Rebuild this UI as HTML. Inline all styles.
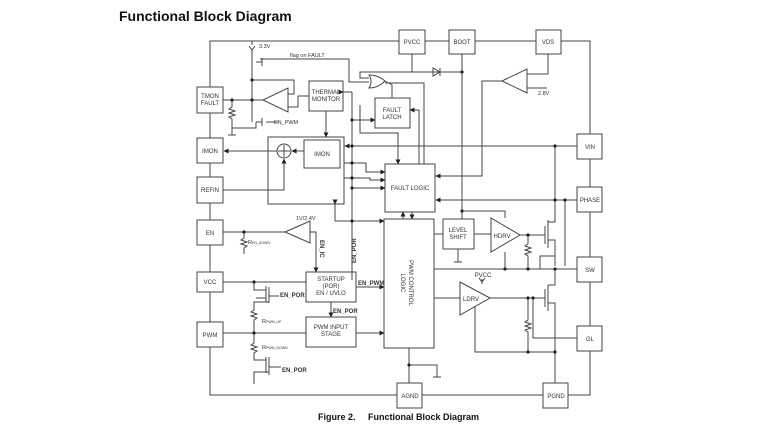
<!DOCTYPE html>
<html><head><meta charset="utf-8"><style>
html,body{margin:0;padding:0;background:#fff;}
svg{display:block;}
text{font-family:"Liberation Sans",Arial,sans-serif;fill:#333;}
</style></head><body>
<svg width="768" height="432" viewBox="0 0 768 432" xmlns="http://www.w3.org/2000/svg">
<defs>
<marker id="a" markerWidth="5" markerHeight="5" refX="4.5" refY="2.5" orient="auto" markerUnits="userSpaceOnUse"><path d="M0,0 L5,2.5 L0,5z" fill="#222"/></marker>
</defs>
<text x="119" y="21" font-size="14" font-weight="bold" fill="#111" style="fill:#111">Functional Block Diagram</text>

<g stroke="#444" stroke-width="1" fill="none">
<!-- outer frame -->
<polyline points="210,87 210,41 399,41"/>
<line x1="425" y1="41" x2="449" y2="41"/>
<line x1="475" y1="41" x2="536" y2="41"/>
<polyline points="561,41 590,41 590,134"/>
<line x1="590" y1="159" x2="590" y2="187"/>
<line x1="590" y1="212" x2="590" y2="257"/>
<line x1="590" y1="282" x2="590" y2="326"/>
<polyline points="590,351 590,395 568,395"/>
<line x1="543" y1="395" x2="422" y2="395"/>
<polyline points="397,395 210,395 210,347"/>
<line x1="210" y1="113" x2="210" y2="138"/>
<line x1="210" y1="163" x2="210" y2="177"/>
<line x1="210" y1="203" x2="210" y2="220"/>
<line x1="210" y1="245" x2="210" y2="272"/>
<line x1="210" y1="292" x2="210" y2="322"/>

<!-- boxes -->
<rect x="197" y="87" width="26" height="26" fill="#fff"/>
<rect x="197" y="138" width="26" height="25" fill="#fff"/>
<rect x="197" y="177" width="26" height="26" fill="#fff"/>
<rect x="197" y="220" width="26" height="25" fill="#fff"/>
<rect x="197" y="272" width="26" height="20" fill="#fff"/>
<rect x="197" y="322" width="26" height="25" fill="#fff"/>
<rect x="399" y="30" width="26" height="24" fill="#fff"/>
<rect x="449" y="30" width="26" height="24" fill="#fff"/>
<rect x="536" y="30" width="25" height="24" fill="#fff"/>
<rect x="577" y="134" width="25" height="25" fill="#fff"/>
<rect x="577" y="187" width="25" height="25" fill="#fff"/>
<rect x="577" y="257" width="25" height="25" fill="#fff"/>
<rect x="577" y="326" width="25" height="25" fill="#fff"/>
<rect x="543" y="383" width="25" height="25" fill="#fff"/>
<rect x="397" y="383" width="25" height="25" fill="#fff"/>

<rect x="309" y="81" width="34" height="30"/>
<rect x="375" y="98" width="35" height="30"/>
<rect x="268" y="137" width="76" height="67"/>
<rect x="304" y="140" width="36" height="28"/>
<circle cx="284" cy="151" r="7"/>
<line x1="284" y1="145" x2="284" y2="157"/><line x1="278" y1="151" x2="290" y2="151"/>
<rect x="385" y="164" width="50" height="48"/>
<rect x="384" y="219" width="50" height="129"/>
<rect x="443" y="219" width="31" height="30"/>
<rect x="306" y="272" width="50" height="30"/>
<rect x="306" y="317" width="50" height="30"/>

<!-- triangles -->
<polygon points="491,218 491,252 520,235"/>
<polygon points="460,282 460,315 490,298"/>
<polygon points="285,232 310,221 310,243"/>
<polygon points="527,69 527,93 502,81"/>
<polygon points="288,88 288,112 263,100"/>
<path d="M369,75 Q378,75 385,81 Q378,88 369,88 Q373,81 369,75z"/>

<!-- TMON region -->
<line x1="223" y1="100" x2="263" y2="100"/>
<polyline points="252,41 252,45"/><path d="M249,46 L252,50 L255,46"/>
<polyline points="252,50 252,62"/>
<polyline points="252,62 252,122"/>
<polyline points="252,80 294,80 294,94 288,94"/>
<polyline points="288,107 298,107 298,96 309,96"/>
<polyline points="256,62 262,62"/><line x1="262" y1="58" x2="262" y2="66"/>
<polyline points="260,59 349,59 349,82 369,82"/>
<line x1="262" y1="118" x2="262" y2="126"/><line x1="256" y1="122" x2="262" y2="122"/>
<line x1="266" y1="122" x2="278" y2="122"/>
<polyline points="232,100 232,107 229,109 235,111 229,113 235,115 229,117 232,119 232,128 256,128 256,122"/>
<line x1="232" y1="128" x2="232" y2="135"/><line x1="228" y1="135" x2="236" y2="135"/>
<line x1="326" y1="111" x2="326" y2="137" marker-end="url(#a)"/>
<line x1="304" y1="151" x2="292" y2="151" marker-end="url(#a)"/>
<line x1="277" y1="151" x2="224" y2="151" marker-end="url(#a)"/>
<polyline points="223,190 284,190 284,159" marker-end="url(#a)"/>

<!-- fault latch / OR -->
<polyline points="392,98 392,85 385,81"/>
<polyline points="369,78 360,78 360,72 460,72"/>
<polyline points="412,54 412,72 433,72"/>
<polygon points="433,68 433,76 440,72"/><line x1="440" y1="68" x2="440" y2="76"/>
<polyline points="440,72 462,72"/>
<polyline points="385,83 424,83 424,164"/>
<polyline points="419,164 419,110 410,110" marker-end="url(#a)"/>
<line x1="352" y1="120" x2="375" y2="120" marker-end="url(#a)"/>
<polyline points="343,92 352,92" marker-start="url(#a)"/>
<polyline points="352,92 352,280"/>
<polyline points="360,105 360,133 398,133 398,164" marker-end="url(#a)"/>
<line x1="344" y1="146" x2="577" y2="146"/>
<line x1="352" y1="146" x2="345" y2="146" marker-end="url(#a)"/>
<polyline points="344,163 366,163 366,172 385,172" marker-end="url(#a)"/>
<polyline points="344,178 370,178 370,180 385,180" marker-end="url(#a)"/>
<line x1="352" y1="188" x2="385" y2="188" marker-end="url(#a)"/>
<polyline points="335,204 335,221" marker-start="url(#a)"/>
<line x1="335" y1="221" x2="384" y2="221" marker-end="url(#a)"/>
<line x1="403" y1="219" x2="403" y2="212" marker-end="url(#a)"/>
<line x1="412" y1="212" x2="412" y2="219" marker-end="url(#a)"/>

<!-- VDS, BOOT -->
<polyline points="548,54 548,74 527,74"/>
<line x1="527" y1="88" x2="547" y2="88"/>
<polyline points="502,81 482,81 482,176 435,176"/>
<line x1="440" y1="176" x2="436" y2="176" marker-end="url(#a)"/>
<line x1="462" y1="54" x2="462" y2="219"/>
<polyline points="462,211 505,211 505,218"/>
<line x1="577" y1="200" x2="436" y2="200" marker-end="url(#a)"/>
<line x1="555" y1="146" x2="555" y2="218"/>
<line x1="565" y1="200" x2="565" y2="266"/>

<!-- level shift / HDRV -->
<line x1="434" y1="234" x2="443" y2="234"/>
<line x1="474" y1="234" x2="491" y2="234"/>
<polyline points="458,249 458,262"/><line x1="454" y1="262" x2="462" y2="262"/>
<line x1="520" y1="235" x2="545" y2="235"/>
<line x1="545" y1="226" x2="545" y2="244"/>
<polyline points="548,222 555,222 555,218"/><line x1="548" y1="220" x2="548" y2="248"/>
<polyline points="548,240 555,240 555,266"/>
<line x1="528" y1="235" x2="528" y2="244"/>
<polyline points="528,244 525,246 531,248 525,250 531,252 525,254 528,256 528,269"/>
<line x1="434" y1="269" x2="577" y2="269"/>
<polyline points="505,252 505,269"/>
<polyline points="540,269 540,256 555,256"/>

<!-- LDRV -->
<line x1="434" y1="298" x2="460" y2="298"/>
<line x1="490" y1="298" x2="545" y2="298"/>
<line x1="545" y1="289" x2="545" y2="307"/>
<line x1="548" y1="285" x2="548" y2="311"/>
<polyline points="548,285 555,285 555,269"/>
<polyline points="548,303 555,303 555,383"/>
<polyline points="482,279 482,284"/><path d="M479,278 L482,282 L485,278"/>
<polyline points="475,307 475,352 555,352"/>
<polyline points="528,298 528,320 525,322 531,324 525,326 531,328 525,330 528,332 528,352"/>
<polyline points="533,298 533,338 577,338"/>

<!-- PWM control bottom -->
<polyline points="409,348 409,383"/>
<polyline points="409,365 437,365 437,377"/><line x1="433" y1="377" x2="441" y2="377"/>

<!-- EN / startup -->
<line x1="223" y1="232" x2="285" y2="232"/>
<polyline points="244,232 244,238 241,240 247,242 241,244 247,246 244,248 244,254"/>
<polyline points="310,232 316,232 316,272" marker-end="url(#a)"/>
<line x1="352" y1="233" x2="352" y2="272"/>
<line x1="223" y1="282" x2="306" y2="282"/>
<line x1="356" y1="287" x2="384" y2="287" marker-end="url(#a)"/>
<line x1="331" y1="302" x2="331" y2="317" marker-end="url(#a)"/>
<line x1="223" y1="333" x2="306" y2="333"/>
<line x1="356" y1="333" x2="384" y2="333" marker-end="url(#a)"/>
<polyline points="254,282 254,290 266,290"/><line x1="266" y1="286" x2="266" y2="302"/><line x1="269" y1="287" x2="269" y2="303"/>
<polyline points="256,298 266,298"/><line x1="269" y1="296" x2="279" y2="296"/>
<polyline points="269,302 254,302 254,310 251,312 257,314 251,316 257,318 254,320 254,333"/>
<polyline points="254,333 254,343 251,345 257,347 251,349 257,351 254,353 254,360 266,360"/>
<line x1="266" y1="357" x2="266" y2="373"/><line x1="269" y1="357" x2="269" y2="375"/>
<line x1="269" y1="367" x2="281" y2="367"/>
<polyline points="269,372 254,372 254,384"/>
</g>

<g fill="#222">
<circle cx="252" cy="80" r="1.6"/><circle cx="252" cy="100" r="1.6"/><circle cx="232" cy="100" r="1.6"/>
<circle cx="352" cy="120" r="1.6"/><circle cx="352" cy="146" r="1.6"/><circle cx="352" cy="163" r="1.6"/>
<circle cx="352" cy="178" r="1.6"/><circle cx="352" cy="188" r="1.6"/><circle cx="352" cy="221" r="1.6"/>
<circle cx="462" cy="72" r="1.6"/><circle cx="462" cy="211" r="1.6"/><circle cx="555" cy="146" r="1.6"/>
<circle cx="555" cy="200" r="1.6"/><circle cx="565" cy="200" r="1.6"/><circle cx="528" cy="235" r="1.6"/>
<circle cx="505" cy="269" r="1.6"/><circle cx="528" cy="269" r="1.6"/><circle cx="555" cy="269" r="1.6"/>
<circle cx="528" cy="298" r="1.6"/><circle cx="533" cy="298" r="1.6"/><circle cx="528" cy="352" r="1.6"/>
<circle cx="555" cy="352" r="1.6"/><circle cx="409" cy="365" r="1.6"/><circle cx="244" cy="232" r="1.6"/>
<circle cx="254" cy="282" r="1.6"/><circle cx="254" cy="333" r="1.6"/>
</g>

<g font-size="6" text-anchor="middle">
<text x="210" y="98">TMON</text><text x="210" y="105">FAULT</text>
<text x="210" y="153">IMON</text><text x="210" y="192">REFIN</text>
<text x="210" y="235">EN</text><text x="210" y="284">VCC</text><text x="210" y="337">PWM</text>
<text x="412" y="44">PVCC</text><text x="462" y="44">BOOT</text><text x="548" y="44">VDS</text>
<text x="590" y="149">VIN</text><text x="590" y="202">PHASE</text><text x="590" y="272">SW</text>
<text x="590" y="341">GL</text><text x="556" y="398">PGND</text><text x="410" y="398">AGND</text>
<text x="326" y="94">THERMAL</text><text x="326" y="101">MONITOR</text>
<text x="392" y="112">FAULT</text><text x="392" y="119">LATCH</text>
<text x="322" y="156">IMON</text><text x="410" y="190">FAULT LOGIC</text>
<text x="458" y="232">LEVEL</text><text x="458" y="239">SHIFT</text>
<text x="502" y="238">HDRV</text><text x="471" y="301">LDRV</text>
<text x="331" y="281">STARTUP</text><text x="331" y="288">(POR)</text><text x="331" y="295">EN / UVLO</text>
<text x="331" y="329">PWM INPUT</text><text x="331" y="336">STAGE</text>
<text x="483" y="277">PVCC</text>
<text x="409" y="283" transform="rotate(90 409 283)">PWM CONTROL</text>
<text x="401" y="283" transform="rotate(90 401 283)">LOGIC</text>
</g>
<g font-size="5.5">
<text x="259" y="48">3.3V</text><text x="290" y="57">flag on FAULT</text>
<text x="274" y="124">EN_PWM</text><text x="538" y="95">2.8V</text>
<text x="296" y="220">1V/2.4V</text>
<text x="248" y="244">R<tspan font-size="3.5">EN_DOWN</tspan></text>
<text x="262" y="323">R<tspan font-size="3.5">PWM_UP</tspan></text>
<text x="262" y="349">R<tspan font-size="3.5">PWM_DOWN</tspan></text>
</g>
<g font-size="6" font-weight="bold">
<text x="280" y="297">EN_POR</text><text x="333" y="313">EN_POR</text>
<text x="282" y="372">EN_POR</text><text x="358" y="285">EN_PWM</text>
<text x="320" y="240" transform="rotate(90 320 240)">EN_IC</text>
<text x="356" y="233" transform="rotate(-90 356 233) translate(-30 0)">EN_POR</text>
</g>
<text x="318" y="420" font-size="9" font-weight="bold" style="fill:#111">Figure 2.</text>
<text x="368" y="420" font-size="9" font-weight="bold" style="fill:#111">Functional Block Diagram</text>
</svg>
</body></html>
